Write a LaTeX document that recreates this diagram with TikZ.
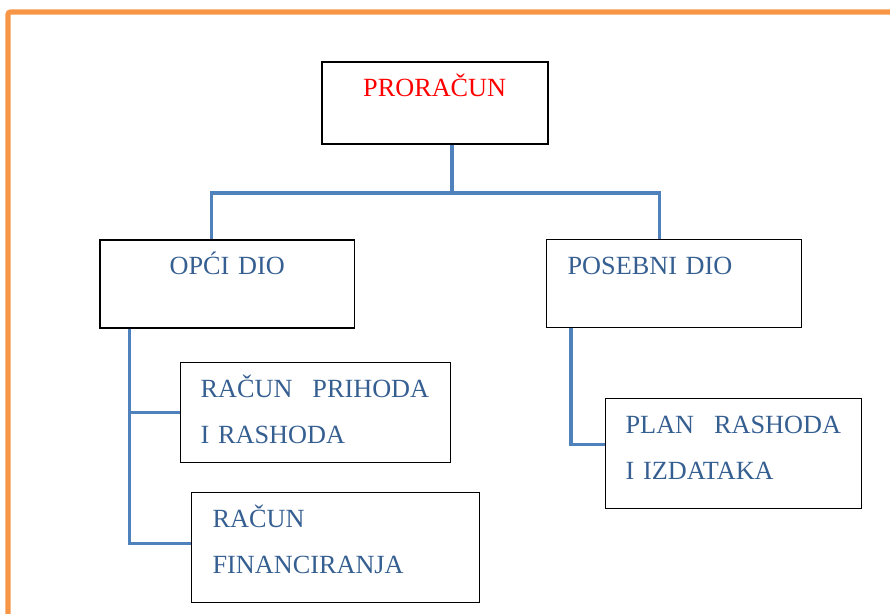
\documentclass[tikz,border=0pt]{standalone}
\usepackage{fontspec}
\setmainfont{Liberation Serif}
\usetikzlibrary{calc}
\newdimen\px \px=0.03cm
\definecolor{rimorange}{HTML}{F79646}
\definecolor{linkblue}{HTML}{4F81BD}
\definecolor{textblue}{HTML}{365F91}

\tikzset{
  box/.style={draw, anchor=north west, inner ysep=0pt, text height=35\px, line width=1.1pt,
    text=textblue, font=\fontsize{22.4pt}{39.3pt}\selectfont},
  link/.style={draw=linkblue, line width=2.6pt},
}

\begin{document}
\begin{tikzpicture}[x=0.03cm, y=-0.03cm]
\useasboundingbox (0,0) rectangle (890,614);
% frame
\draw[rimorange, line width=4.3pt, rounded corners=2pt] (8,640) -- (8,12) -- (900,12);

\node[box, line width=1.7pt, text=red, text width=226\px, inner xsep=0pt, align=center, text depth=47\px] (pro) at (320.7,60.7) {PRORAČUN};
\node[box, text width=254.7\px, inner xsep=0pt, align=center, text depth=53\px] (opci) at (99.3,239.3) {OPĆI DIO};
\node[box, text width=213\px, inner xsep=21\px, align=left, text depth=53\px] (posebni) at (546,239) {POSEBNI DIO};
\node[box, text width=230\px, inner xsep=20\px, align=left, text depth=65\px] (prihoda) at (180,362) {\mbox{RAČUN\hspace{20\px}PRIHODA}\\I RASHODA};
\node[box, text width=246\px, inner xsep=21\px, align=left, text depth=75\px] (financ) at (191,492) {RAČUN\\FINANCIRANJA};
\node[box, text width=216\px, inner xsep=20\px, align=left, text depth=75\px] (plan) at (605,398) {\mbox{PLAN\hspace{20\px}RASHODA}\\I IZDATAKA};

% connectors
\coordinate (hub) at (452,193);
\draw[link] (pro.south -| hub) -- (hub);
\draw[link] (hub) -| ([xshift=-16\px]opci.north);
\draw[link] (hub) -| ([xshift=-14.5\px]posebni.north);
\draw[link] ([xshift=30\px]opci.south west) |- (prihoda.west);
\draw[link] ([xshift=30\px]opci.south west) |- ([yshift=4\px]financ.west);
\draw[link] ([xshift=25\px]posebni.south west) |- ([yshift=9\px]plan.west);
\end{tikzpicture}
\end{document}
